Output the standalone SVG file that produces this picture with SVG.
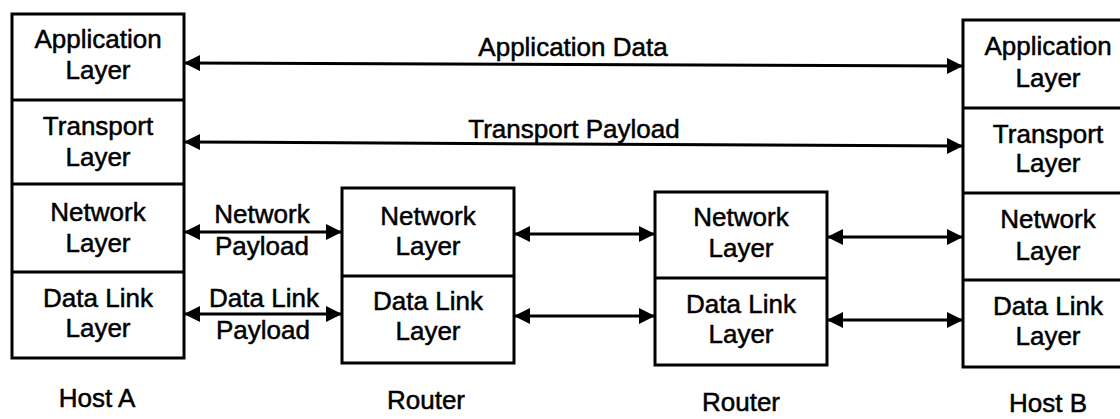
<svg xmlns="http://www.w3.org/2000/svg" width="1120" height="419" viewBox="0 0 1120 419">
<style>
.box{fill:#fff;stroke:#000;stroke-width:3}
.div{stroke:#000;stroke-width:3}
.t{font-family:"Liberation Sans",Arial,sans-serif;font-size:26px;fill:#000;stroke:#000;stroke-width:0.5;text-anchor:middle}
.c{stroke:#000;stroke-width:3;fill:none;marker-start:url(#ah);marker-end:url(#ah)}
</style>
<defs>
<marker id="ah" markerUnits="userSpaceOnUse" markerWidth="18" markerHeight="18" refX="16" refY="8" orient="auto-start-reverse">
<path d="M0,0 L16,8 L0,16 z" fill="#000"/>
</marker>
</defs>
<rect width="1120" height="419" fill="#fff"/>
<g id="hostA">
<rect class="box" x="12" y="14" width="172" height="344"/>
<line class="div" x1="12" y1="100" x2="184" y2="100"/>
<line class="div" x1="12" y1="184" x2="184" y2="184"/>
<line class="div" x1="12" y1="272" x2="184" y2="272"/>
<text class="t" x="98" y="48">Application</text>
<text class="t" x="98" y="79">Layer</text>
<text class="t" x="98" y="135">Transport</text>
<text class="t" x="98" y="166">Layer</text>
<text class="t" x="98" y="221">Network</text>
<text class="t" x="98" y="252">Layer</text>
<text class="t" x="98" y="307">Data Link</text>
<text class="t" x="98" y="337">Layer</text>
<text class="t" x="97" y="407">Host A</text>
</g>
<g id="router1">
<rect class="box" x="342" y="188" width="172" height="175"/>
<line class="div" x1="342" y1="276" x2="514" y2="276"/>
<text class="t" x="428" y="225">Network</text>
<text class="t" x="428" y="255">Layer</text>
<text class="t" x="428" y="310">Data Link</text>
<text class="t" x="428" y="340">Layer</text>
<text class="t" x="426" y="409">Router</text>
</g>
<g id="router2">
<rect class="box" x="655" y="192" width="172" height="173"/>
<line class="div" x1="655" y1="278" x2="827" y2="278"/>
<text class="t" x="741" y="226">Network</text>
<text class="t" x="741" y="257">Layer</text>
<text class="t" x="741" y="313">Data Link</text>
<text class="t" x="741" y="343">Layer</text>
<text class="t" x="741" y="411">Router</text>
</g>
<g id="hostB">
<rect class="box" x="963" y="20" width="170" height="347"/>
<line class="div" x1="963" y1="108" x2="1120" y2="108"/>
<line class="div" x1="963" y1="193" x2="1120" y2="193"/>
<line class="div" x1="963" y1="280" x2="1120" y2="280"/>
<text class="t" x="1048" y="55">Application</text>
<text class="t" x="1048" y="87">Layer</text>
<text class="t" x="1048" y="143">Transport</text>
<text class="t" x="1048" y="172">Layer</text>
<text class="t" x="1048" y="228">Network</text>
<text class="t" x="1048" y="260">Layer</text>
<text class="t" x="1048" y="315">Data Link</text>
<text class="t" x="1048" y="345">Layer</text>
<text class="t" x="1048" y="412">Host B</text>
</g>
<g id="connectors">
<line class="c" x1="184" y1="63" x2="963" y2="66"/>
<line class="c" x1="184" y1="142" x2="963" y2="146"/>
<line class="c" x1="184" y1="232" x2="342" y2="232"/>
<line class="c" x1="184" y1="314" x2="342" y2="314"/>
<line class="c" x1="514" y1="234" x2="655" y2="234"/>
<line class="c" x1="514" y1="316" x2="655" y2="316"/>
<line class="c" x1="827" y1="237" x2="963" y2="237"/>
<line class="c" x1="827" y1="320" x2="963" y2="320"/>
<text class="t" x="573" y="56">Application Data</text>
<text class="t" x="574" y="138">Transport Payload</text>
<text class="t" x="262" y="223">Network</text>
<text class="t" x="262" y="255">Payload</text>
<text class="t" x="264" y="307">Data Link</text>
<text class="t" x="263" y="339">Payload</text>
</g>
</svg>
